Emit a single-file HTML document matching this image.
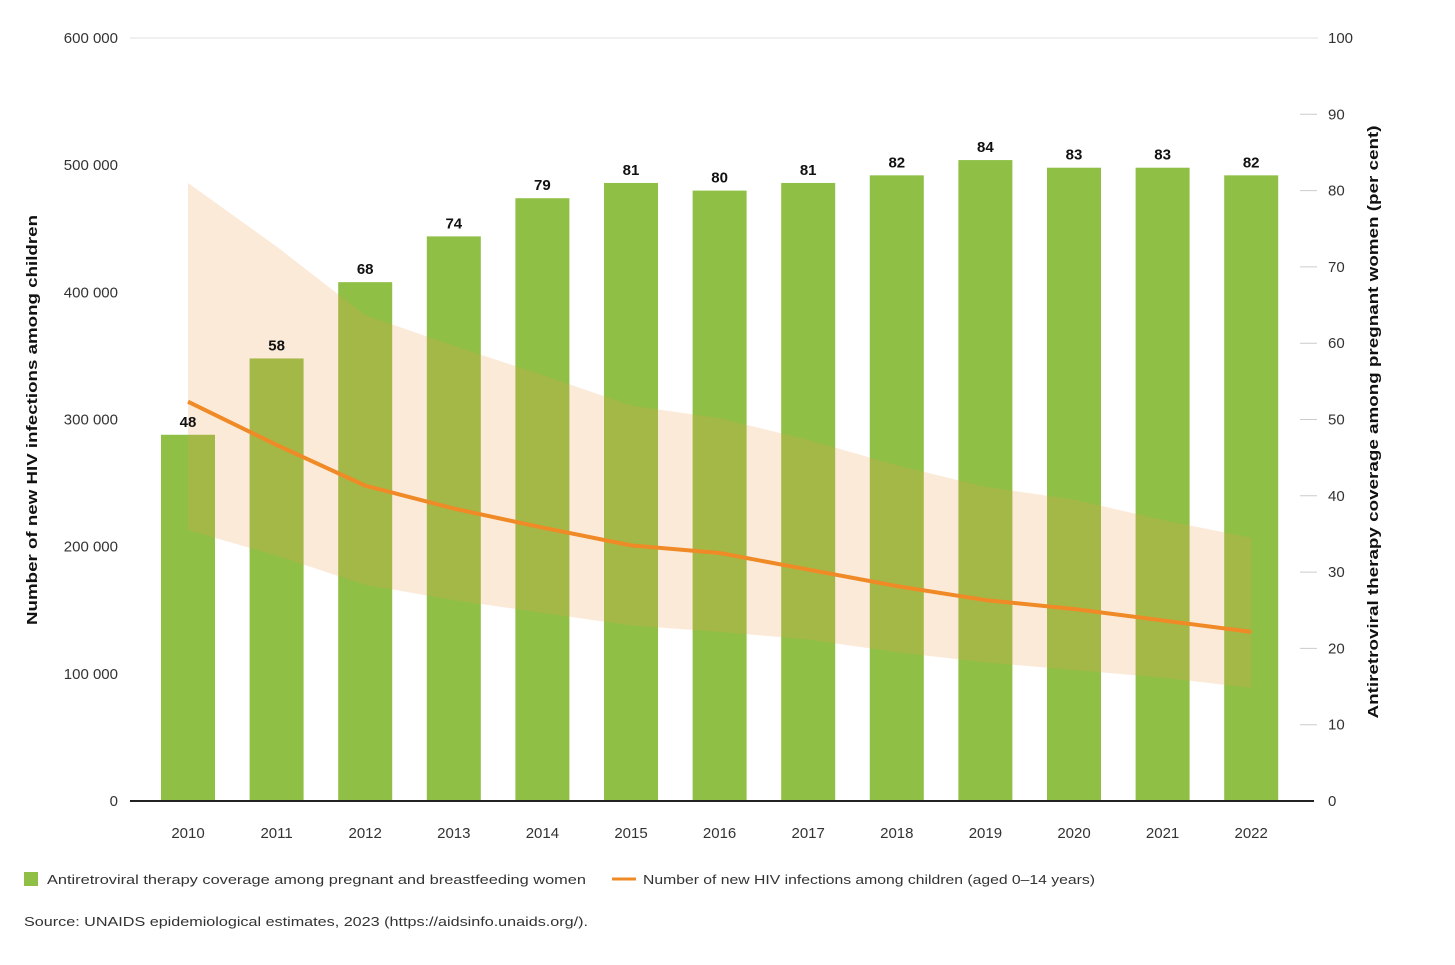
<!DOCTYPE html>
<html><head><meta charset="utf-8"><style>
body{margin:0;background:#fff;width:1455px;height:960px;overflow:hidden;font-family:"Liberation Sans",sans-serif}
</style></head><body>
<svg width="1455" height="960" xmlns="http://www.w3.org/2000/svg" style="font-family:'Liberation Sans',sans-serif">
<g id="grid"></g><g id="bars"></g><g id="band"></g><g id="line"></g><g id="labels"></g><g id="axes"></g>
<text transform="translate(37,420) rotate(-90)" text-anchor="middle" font-size="15" font-weight="bold" fill="#111" textLength="410" lengthAdjust="spacingAndGlyphs">Number of new HIV infections among children</text>
<text transform="translate(1378,422) rotate(-90)" text-anchor="middle" font-size="15" font-weight="bold" fill="#111" textLength="593" lengthAdjust="spacingAndGlyphs">Antiretroviral therapy coverage among pregnant women (per cent)</text>
<g>
<rect x="24" y="872" width="14" height="14" fill="#8fbf45"/>
<text x="47" y="884" font-size="13" fill="#333" textLength="539" lengthAdjust="spacingAndGlyphs">Antiretroviral therapy coverage among pregnant and breastfeeding women</text>
<line x1="612" y1="879" x2="636" y2="879" stroke="#ef8a26" stroke-width="3"/>
<text x="643" y="884" font-size="13" fill="#333" textLength="452" lengthAdjust="spacingAndGlyphs">Number of new HIV infections among children (aged 0–14 years)</text>
</g>
<text x="24" y="926" font-size="13" fill="#333" textLength="564" lengthAdjust="spacingAndGlyphs">Source: UNAIDS epidemiological estimates, 2023 (https://aidsinfo.unaids.org/).</text>
</svg>
<script>
const years=["2010","2011","2012","2013","2014","2015","2016","2017","2018","2019","2020","2021","2022"];
const coverage=[48,58,68,74,79,81,80,81,82,84,83,83,82];
const infections=[314000,280000,248000,230000,215000,201000,195000,182000,169000,158000,151000,142000,133000];
const upperBound=[486000,436000,382000,358000,335000,311000,301000,284000,264000,247000,237000,221000,207000];
const lowerBound=[213000,193000,170000,158000,148000,138000,133000,127000,117000,109000,103000,97000,89000];
const leftTicks=[0,100000,200000,300000,400000,500000,600000];
const rightTicks=[0,10,20,30,40,50,60,70,80,90,100];
const NS="http://www.w3.org/2000/svg";
const y0=801,yTop=38;
const yL=v=>y0-(v/600000)*(y0-yTop);
const yR=v=>y0-(v/100)*(y0-yTop);
const xC=i=>188+i*88.6;
const fmt=v=>v===0?"0":String(v).replace(/\B(?=(\d{3})+(?!\d))/g," ");
function el(t,a,p){const e=document.createElementNS(NS,t);for(const k in a)e.setAttribute(k,a[k]);document.getElementById(p).appendChild(e);return e;}
let g=el("line",{x1:130,x2:1318,y1:yL(600000),y2:yL(600000),stroke:"#e2e2e2","stroke-width":1},"grid");


leftTicks.forEach(v=>{const t=el("text",{x:118,y:yL(v)+5,"text-anchor":"end","font-size":15,fill:"#333"},"axes");t.textContent=fmt(v);

});
rightTicks.forEach(v=>{if(v>0&&v<100){const l=el("line",{x1:1300,x2:1317,y1:yR(v),y2:yR(v),stroke:"#ccc"},"axes");

}
const t=el("text",{x:1328,y:yR(v)+5,"font-size":15,fill:"#333"},"axes");t.textContent=v;

});
coverage.forEach((v,i)=>{const r=el("rect",{x:xC(i)-27,y:yR(v),width:54,height:y0-yR(v),fill:"#8fbf45"},"bars");


const t=el("text",{x:xC(i),y:yR(v)-8,"text-anchor":"middle","font-size":15,"font-weight":"bold",fill:"#111"},"labels");t.textContent=v;


const x=el("text",{x:xC(i),y:838,"text-anchor":"middle","font-size":15,fill:"#333"},"axes");x.textContent=years[i];

});
let pts=upperBound.map((v,i)=>xC(i)+","+yL(v)).concat(lowerBound.map((v,i)=>xC(i)+","+yL(v)).reverse());
const b=el("polygon",{points:pts.join(" "),fill:"#f0a050","fill-opacity":0.22},"band");


const ln=el("polyline",{points:infections.map((v,i)=>xC(i)+","+yL(v)).join(" "),fill:"none",stroke:"#ef8a26","stroke-width":4,"stroke-linejoin":"round"},"line");


const base=el("line",{x1:130,x2:1314,y1:y0,y2:y0,stroke:"#222","stroke-width":2},"axes");


</script>
</body></html>
